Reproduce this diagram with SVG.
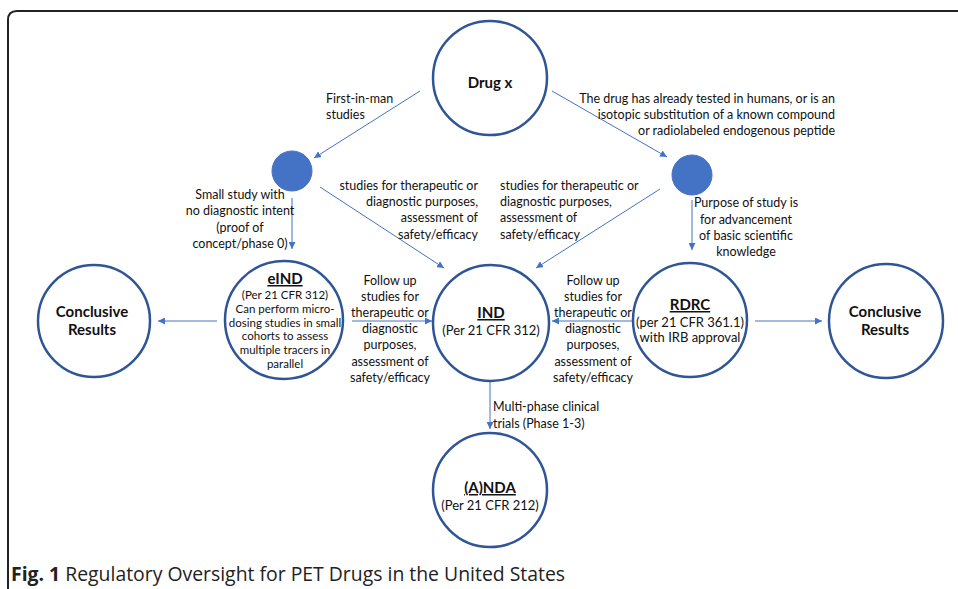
<svg xmlns="http://www.w3.org/2000/svg" width="958" height="589" viewBox="0 0 958 589">
<defs>
<marker id="ah" viewBox="0 0 10 10" refX="10" refY="5" markerWidth="7" markerHeight="7" orient="auto" markerUnits="userSpaceOnUse">
<path d="M0,0 L10,5 L0,10 z" fill="#4472C4"/>
</marker>
<style>
.node{fill:#fff;stroke:#2F5597;stroke-width:2.5}
.dot{fill:#4472C4;stroke:#4472C4;stroke-width:1}
.conn line{stroke:#4472C4;stroke-width:1;marker-end:url(#ah)}
text{font-family:Lato,"Open Sans","Liberation Sans",sans-serif;fill:#111}
.lbl{font-size:12.5px}
.c{text-anchor:middle}
.r{text-anchor:end}
.b{font-weight:bold;font-size:15px}
.u{text-decoration:underline}
.s{font-size:11.5px}
.m{font-size:13px}
.cap{font-family:"Open Sans","Liberation Sans",sans-serif;font-size:19.4px;fill:#222}
</style>
</defs>
<rect width="958" height="589" fill="#fff"/>
<path d="M8 589 V20 Q8 11 17 11 H958" fill="none" stroke="#222" stroke-width="2"/>

<g class="conn">
<line x1="420" y1="91" x2="314" y2="158"/>
<line x1="552" y1="91" x2="667" y2="157"/>
<line x1="292" y1="198" x2="292" y2="249"/>
<line x1="692" y1="200" x2="692" y2="250"/>
<line x1="320" y1="187" x2="444" y2="268"/>
<line x1="660" y1="189" x2="536" y2="268"/>
<line x1="217" y1="321" x2="158" y2="321"/>
<line x1="352" y1="321" x2="432" y2="321"/>
<line x1="632" y1="321" x2="552" y2="321"/>
<line x1="755" y1="321" x2="822" y2="321"/>
<line x1="490" y1="382" x2="490" y2="429"/>
</g>

<g id="drugx">
<circle class="node" cx="490" cy="78" r="57"/>
<text class="b c" x="490" y="88">Drug x</text>
</g>
<g id="dot-left"><circle class="dot" cx="292" cy="171" r="20"/></g>
<g id="dot-right"><circle class="dot" cx="692" cy="175" r="20"/></g>
<g id="concl-left">
<circle class="node" cx="94" cy="321" r="56"/>
<text class="b c" x="92" y="317">Conclusive</text>
<text class="b c" x="92" y="335">Results</text>
</g>
<g id="eind">
<circle class="node" cx="284" cy="320" r="59"/>
<text class="b c u" x="285" y="284">eIND</text>
<text class="s c" x="285" y="299">(Per 21 CFR 312)</text>
<text class="s c" x="285" y="313">Can perform micro-</text>
<text class="s c" x="285" y="327">dosing studies in small</text>
<text class="s c" x="285" y="340">cohorts to assess</text>
<text class="s c" x="285" y="354">multiple tracers in</text>
<text class="s c" x="285" y="368">parallel</text>
</g>
<g id="ind">
<circle class="node" cx="491" cy="323" r="58"/>
<text class="b c u" x="491" y="318">IND</text>
<text class="m c" x="491" y="335">(Per 21 CFR 312)</text>
</g>
<g id="rdrc">
<circle class="node" cx="690" cy="320" r="57"/>
<text class="b c u" x="690" y="310">RDRC</text>
<text class="m c" x="690" y="327">(per 21 CFR 361.1)</text>
<text class="m c" x="690" y="342">with IRB approval</text>
</g>
<g id="concl-right">
<circle class="node" cx="886" cy="321" r="57"/>
<text class="b c" x="885" y="317">Conclusive</text>
<text class="b c" x="885" y="335">Results</text>
</g>
<g id="anda">
<circle class="node" cx="490" cy="490" r="57"/>
<text class="b c u" x="490" y="493">(A)NDA</text>
<text class="m c" x="490" y="510">(Per 21 CFR 212)</text>
</g>

<g id="labels" class="lbl">
<text x="326" y="103">First-in-man</text>
<text x="326" y="119">studies</text>
<text class="r" x="835" y="103">The drug has already tested in humans, or is an</text>
<text class="r" x="835" y="119">isotopic substitution of a known compound</text>
<text class="r" x="835" y="135">or radiolabeled endogenous peptide</text>
<text class="c" x="240" y="199">Small study with</text>
<text class="c" x="240" y="215">no diagnostic intent</text>
<text class="c" x="240" y="232">(proof of</text>
<text class="c" x="240" y="248">concept/phase 0)</text>
<text class="r" x="478" y="190">studies for therapeutic or</text>
<text class="r" x="478" y="206">diagnostic purposes,</text>
<text class="r" x="478" y="222">assessment of</text>
<text class="r" x="478" y="239">safety/efficacy</text>
<text x="500" y="190">studies for therapeutic or</text>
<text x="500" y="206">diagnostic purposes,</text>
<text x="500" y="222">assessment of</text>
<text x="500" y="239">safety/efficacy</text>
<text class="c" x="746" y="207">Purpose of study is</text>
<text class="c" x="746" y="224">for advancement</text>
<text class="c" x="746" y="240">of basic scientific</text>
<text class="c" x="746" y="256">knowledge</text>
<text class="c" x="390" y="285">Follow up</text>
<text class="c" x="390" y="301">studies for</text>
<text class="c" x="390" y="317">therapeutic or</text>
<text class="c" x="390" y="333">diagnostic</text>
<text class="c" x="390" y="349">purposes,</text>
<text class="c" x="390" y="366">assessment of</text>
<text class="c" x="390" y="382">safety/efficacy</text>
<text class="c" x="593" y="285">Follow up</text>
<text class="c" x="593" y="301">studies for</text>
<text class="c" x="593" y="317">therapeutic or</text>
<text class="c" x="593" y="333">diagnostic</text>
<text class="c" x="593" y="349">purposes,</text>
<text class="c" x="593" y="366">assessment of</text>
<text class="c" x="593" y="382">safety/efficacy</text>
<text x="493" y="411">Multi-phase clinical</text>
<text x="493" y="428">trials (Phase 1-3)</text>
</g>

<text class="cap" x="11" y="581"><tspan font-weight="bold">Fig. 1</tspan> Regulatory Oversight for PET Drugs in the United States</text>
</svg>
